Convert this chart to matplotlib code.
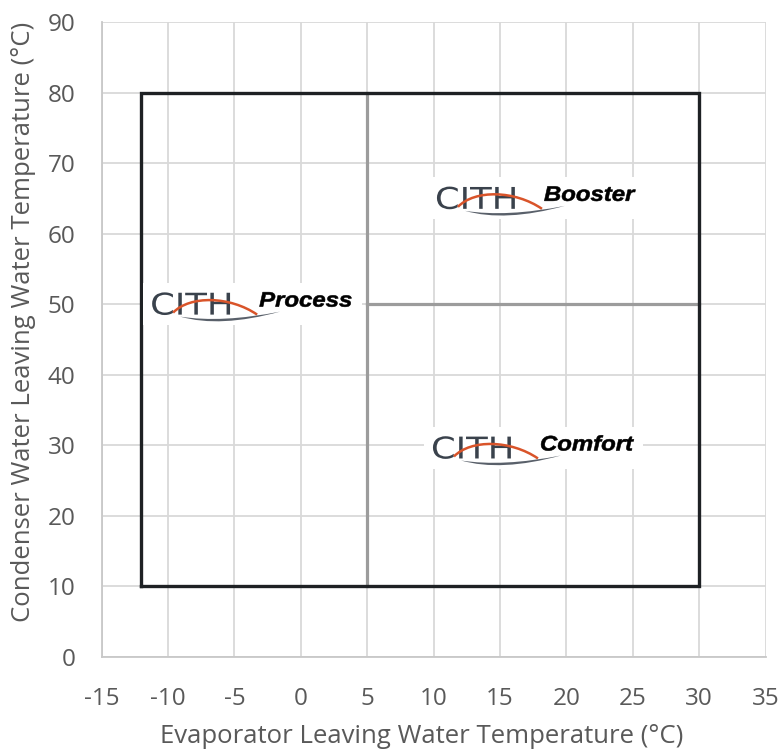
import matplotlib
matplotlib.use('Agg')
from matplotlib import pyplot as plt
from matplotlib import transforms as mtransforms
from matplotlib.path import Path
from matplotlib.patches import PathPatch, Rectangle
from matplotlib.textpath import TextPath
from matplotlib.font_manager import FontProperties

# envelope corners (evap temp, cond temp)
envelope_x = [-12, 30, 30, -12, -12]
envelope_y = [10, 10, 80, 80, 10]
# internal split lines
split_v_x = [5, 5]
split_v_y = [10, 80]
split_h_x = [5, 30]
split_h_y = [50, 50]
# product labels and where their logos start
products = ['Process', 'Booster', 'Comfort']
logo_x = [-11.35, 10.1, 9.8]
logo_y = [50, 65.0, 29.6]

x_ticks = list(range(-15, 36, 5))
y_ticks = list(range(0, 91, 10))

plt.rcParams['font.family'] = ['Open Sans', 'DejaVu Sans']
plt.rcParams['axes.unicode_minus'] = False

fig = plt.figure(figsize=(7.82, 7.52), dpi=100)
ax = fig.add_axes([0.1300, 0.1267, 0.8490, 0.8440])
ax.set_xlim(-15, 35)
ax.set_ylim(0, 90)
ax.set_xticks(x_ticks)
ax.set_yticks(y_ticks)
ax.grid(True, color='#d9d9d9', linewidth=1.3)
ax.set_axisbelow(True)
for s in ['top', 'right']:
    ax.spines[s].set_visible(False)
for s in ['left', 'bottom']:
    ax.spines[s].set_color('#c8c8c8')
    ax.spines[s].set_linewidth(1.3)
ax.tick_params(length=0, labelsize=17.5, labelcolor='#595959')
ax.tick_params(axis='x', pad=22)
ax.tick_params(axis='y', pad=19)
ax.set_xlabel('Evaporator Leaving Water Temperature (°C)', fontsize=18.5, color='#595959', va='center')
ax.set_ylabel('Condenser Water Leaving Water Temperature (°C)', fontsize=18.5, color='#595959', va='center')
ax.xaxis.set_label_coords(0.482, -0.126)
ax.yaxis.set_label_coords(-0.118, 0.527)

ax.plot(split_v_x, split_v_y, color='#9c9c9c', lw=2.3, zorder=3)
ax.plot(split_h_x, split_h_y, color='#9c9c9c', lw=2.3, zorder=3)
ax.plot(envelope_x, envelope_y, color='#1e2124', lw=2.4, zorder=4, solid_joinstyle='miter')

# logo pieces, in pixel offsets from each anchor
cith = TextPath((0, 0), 'CITH', size=30, prop=FontProperties(family='DejaVu Sans'))
cith_tr = mtransforms.Affine2D().scale(1.18, 1.0).translate(0, -10.5)
arc = Path([(23, -8.5), (40, 9), (80, 8), (107, -10.5)],
           [Path.MOVETO, Path.CURVE4, Path.CURVE4, Path.CURVE4])
swoosh = Path([(30, -12.5), (70, -24), (130, -7.5), (130, -7.5),
               (72, -19), (30, -12.5), (30, -12.5)],
              [Path.MOVETO, Path.CURVE3, Path.CURVE3, Path.LINETO,
               Path.CURVE3, Path.CURVE3, Path.CLOSEPOLY])

for name, lx, ly in zip(products, logo_x, logo_y):
    tr = mtransforms.Affine2D() + mtransforms.ScaledTranslation(lx, ly, ax.transData)
    ax.add_patch(Rectangle((-7, -21), 219, 42, transform=tr, facecolor='white',
                           edgecolor='none', zorder=5, clip_on=False))
    ax.add_patch(PathPatch(cith, transform=cith_tr + tr, facecolor='#3a424c',
                           edgecolor='none', zorder=6))
    ax.add_patch(PathPatch(arc, transform=tr, facecolor='none', edgecolor='#d9542a',
                           lw=1.8, zorder=7))
    ax.add_patch(PathPatch(swoosh, transform=tr, facecolor='#59606a',
                           edgecolor='none', zorder=7))
    word = TextPath((0, 0), name, size=21,
                    prop=FontProperties(family='Liberation Sans', weight='bold', style='italic'))
    word_tr = mtransforms.Affine2D().scale(1.14, 1.0).translate(109, -2.5)
    ax.add_patch(PathPatch(word, transform=word_tr + tr, facecolor='black',
                           edgecolor='black', lw=0.4, zorder=6))

plt.savefig('out.png', dpi=100)
